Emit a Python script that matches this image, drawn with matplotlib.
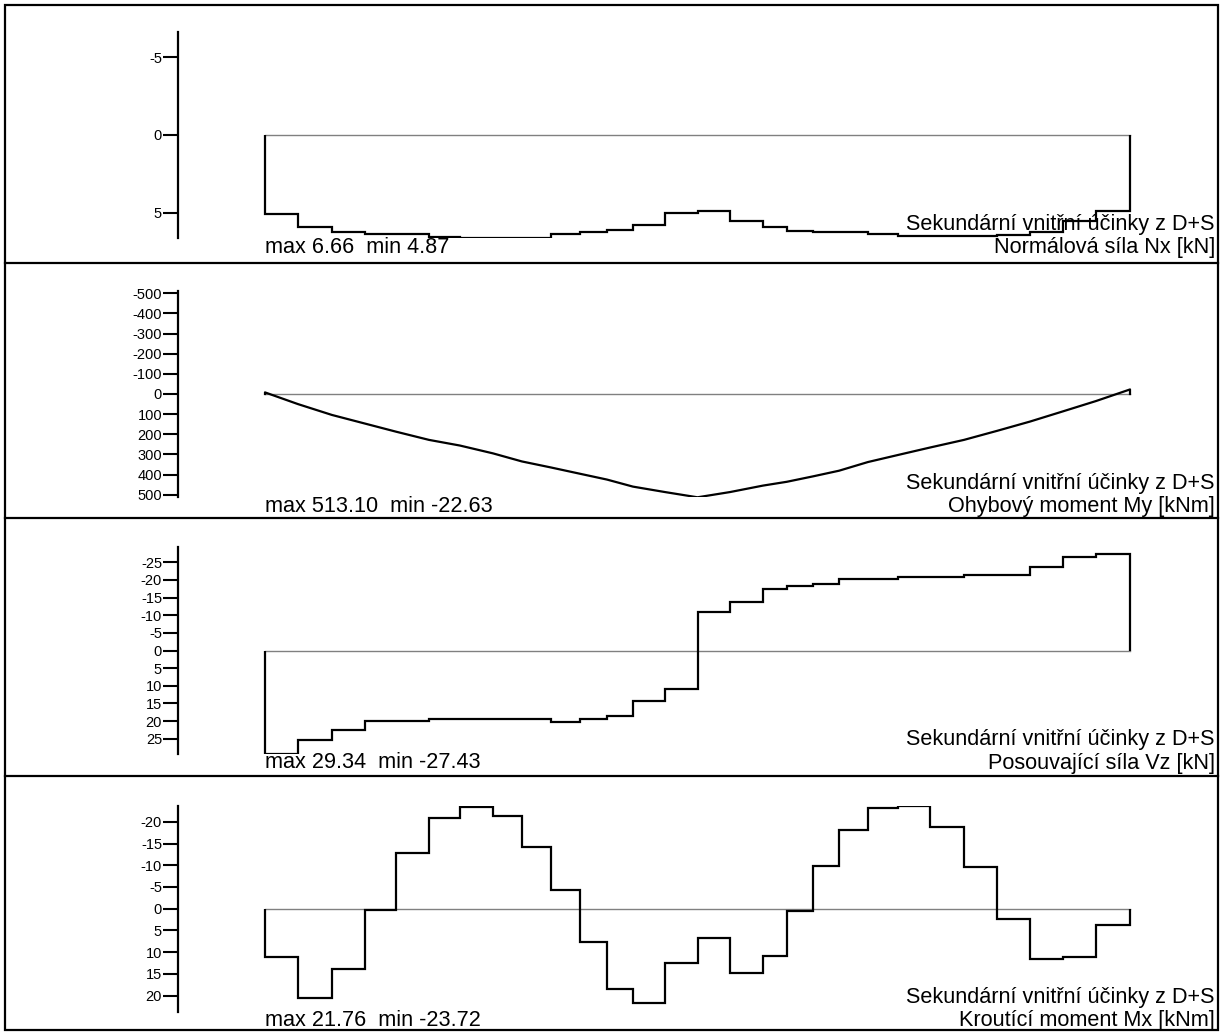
import matplotlib
matplotlib.use("Agg")
import matplotlib.pyplot as plt
from matplotlib.lines import Line2D
from matplotlib.patches import Rectangle

plt.rcParams['font.family'] = ['Liberation Sans', 'DejaVu Sans']
plt.rcParams['axes.unicode_minus'] = False

# beam length [m] and section stations along it
L = 30.0
stations = [0.0, 1.14, 2.32, 3.47, 4.54, 5.69, 6.76, 7.91, 8.91, 9.92, 10.92,
            11.86, 12.76, 13.87, 15.0, 16.13, 17.27, 18.10, 19.01, 19.91,
            20.91, 21.95, 23.06, 24.24, 25.39, 26.53, 27.68, 28.82, 30.0]

# Normalova sila Nx [kN] - constant per element
nx = [5.10, 5.92, 6.27, 6.40, 6.40, 6.60, 6.66, 6.66, 6.62, 6.40, 6.27, 6.10,
      5.79, 5.00, 4.87, 5.57, 5.92, 6.21, 6.27, 6.27, 6.40, 6.50, 6.52, 6.52,
      6.45, 6.25, 5.55, 4.88]

# Ohybovy moment My [kNm] - value at stations
my = [-8, 50, 104, 147, 187, 228, 256, 295, 335, 365, 396, 425, 460, 487,
      513.1, 487, 455, 436, 409, 381, 338, 303, 266, 228, 183, 137, 86, 35,
      -22.63]

# Posouvajici sila Vz [kN]
vz = [29.34, 25.4, 22.4, 20.1, 20.1, 19.5, 19.5, 19.5, 19.5, 20.2, 19.5, 18.5,
      14.4, 10.9, -10.9, -13.7, -17.3, -18.4, -18.9, -20.4, -20.4, -20.7,
      -20.7, -21.3, -21.3, -23.7, -26.5, -27.43]

# Krouticí moment Mx [kNm]
mx = [11.1, 20.5, 13.9, 0.4, -12.8, -21.0, -23.5, -21.3, -14.2, -4.2, 7.6,
      18.6, 21.76, 12.4, 6.8, 14.8, 11.0, 0.5, -9.8, -18.1, -23.3, -23.72,
      -18.9, -9.6, 2.4, 11.5, 11.2, 3.8]

header = "Sekundární vnitřní účinky z D+S"
names = ["Normálová síla Nx [kN]", "Ohybový moment My [kNm]",
         "Posouvající síla Vz [kN]", "Kroutící moment Mx [kNm]"]
series = [nx, my, vz, mx]
steps = [True, False, True, True]
ticks = [[-5, 0, 5], list(range(-500, 501, 100)),
         list(range(-25, 26, 5)), list(range(-20, 21, 5))]

W, H = 1225, 1032
fig = plt.figure(figsize=(W / 100, H / 100), dpi=100)

# vertical extent of each value axis in pixels
extents = [(31.7, 238.3), (290.7, 497.3), (547, 754), (805.7, 1011.7)]
ax_left, ax_right, beam_start, beam_end = 178, 1215, 265, 1130
scale = L / (beam_end - beam_start)

for vals, name, step, tk, (top, bot) in zip(series, names, steps, ticks, extents):
    ax = fig.add_axes([ax_left / W, 1 - bot / H, (ax_right - ax_left) / W, (bot - top) / H])
    vmax, vmin = max(vals), min(vals)
    m = max(abs(vmax), abs(vmin))
    ax.set_xlim((ax_left - beam_start) * scale, (ax_right - beam_start) * scale)
    ax.set_ylim(m, -m)
    ax.patch.set_visible(False)

    ax.plot([0, L], [0, 0], color='#808080', lw=1.0, zorder=1)
    if step:
        ax.stairs(vals, stations, baseline=0, color='black', lw=1.6, zorder=2)
    else:
        ax.plot([stations[0]] + stations + [stations[-1]], [0] + vals + [0],
                color='black', lw=1.6, zorder=2)

    for s in ['top', 'right', 'bottom']:
        ax.spines[s].set_visible(False)
    ax.spines['left'].set_linewidth(1.6)
    ax.set_xticks([])
    ax.set_yticks(tk)
    ax.tick_params(axis='y', length=11, width=1.5, pad=0.5, labelsize=10.5)

    ax.annotate(f"max {vmax:.2f}  min {vmin:.2f}", xy=(0, 0),
                xycoords=('data', 'axes fraction'), xytext=(0, -9),
                textcoords='offset pixels', ha='left', va='center', fontsize=15.6)
    ax.annotate(name, xy=(1, 0), xycoords='axes fraction', xytext=(0, -9),
                textcoords='offset pixels', ha='right', va='center', fontsize=15.6)
    ax.annotate(header, xy=(1, 0), xycoords='axes fraction', xytext=(0, 14),
                textcoords='offset pixels', ha='right', va='center', fontsize=15.6)

# panel frames
fig.add_artist(Rectangle((5 / W, 1 - 1030 / H), 1213 / W, 1025 / H,
                         transform=fig.transFigure, fill=False, lw=1.6, ec='black'))
for y in [263, 518, 776]:
    fig.add_artist(Line2D([5 / W, 1218 / W], [1 - y / H, 1 - y / H],
                          transform=fig.transFigure, color='black', lw=1.6))

fig.savefig("out.png", dpi=100)
